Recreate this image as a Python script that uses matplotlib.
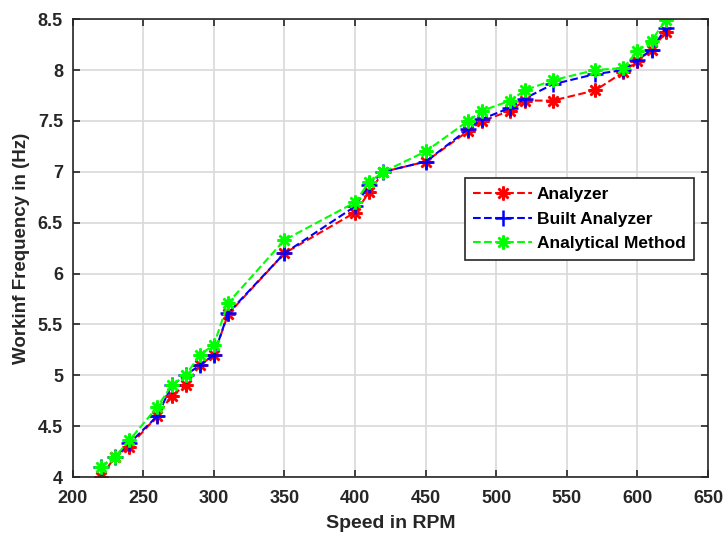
# -*- coding: utf-8 -*-

import matplotlib
matplotlib.use("Agg")
import matplotlib.pyplot as plt

# data ----------------------------------------------------------------------

speed = [220, 230, 240, 260, 270, 280, 290, 300, 310, 350, 400, 410,
         420, 450, 480, 490, 510, 520, 540, 570, 590, 600, 610, 620]

analyzer = [4.0, 4.2, 4.3, 4.6, 4.8, 4.9, 5.1, 5.2, 5.6, 6.2, 6.6, 6.8,
            7.0, 7.1, 7.4, 7.5, 7.6, 7.7, 7.7, 7.8, 7.98, 8.09, 8.2, 8.37]

built = [4.1, 4.2, 4.33, 4.6, 4.9, 5.0, 5.1, 5.2, 5.61, 6.2, 6.66, 6.87,
         7.0, 7.1, 7.42, 7.52, 7.63, 7.72, 7.86, 7.96, 8.0, 8.1, 8.2, 8.41]

analytical = [4.1, 4.2, 4.36, 4.69, 4.9, 5.0, 5.2, 5.3, 5.71, 6.33, 6.7, 6.9,
              7.0, 7.2, 7.5, 7.6, 7.7, 7.8, 7.9, 8.0, 8.02, 8.19, 8.29, 8.49]

xticks = list(range(200, 651, 50))
yticks = [4, 4.5, 5, 5.5, 6, 6.5, 7, 7.5, 8, 8.5]

rc = {
    "font.family": ["Liberation Sans", "DejaVu Sans"],
    "font.weight": "bold",
    "axes.labelweight": "bold",
    "xtick.direction": "in",
    "ytick.direction": "in",
    "xtick.top": True,
    "ytick.right": True,
}

with plt.rc_context(rc):
    fig = plt.figure(figsize=(7.27, 5.33), dpi=100)
    ax = fig.add_axes([0.100, 0.105, 0.874, 0.859])

    star = (8, 2, 0)
    ax.plot(speed, analyzer, "--", color="#ff0000", lw=1.5, marker=star,
            ms=10, mew=1.8, label="Analyzer")
    ax.plot(speed, built, "--", color="#0000ff", lw=1.5, marker="+",
            ms=11, mew=1.8, label="Built Analyzer")
    ax.plot(speed, analytical, "--", color="#00ff00", lw=1.5, marker=star,
            ms=10, mew=1.8, label="Analytical Method")

    ax.set_xlim(200, 650)
    ax.set_ylim(4, 8.5)
    ax.set_xticks(xticks)
    ax.set_yticks(yticks)
    ax.set_yticklabels([f"{v:g}" for v in yticks])
    ax.tick_params(labelsize=13, colors="#262626", length=5, width=1.2)
    ax.tick_params(axis="x", pad=9)
    ax.tick_params(axis="y", pad=7)
    ax.grid(True, color="#d9d9d9", lw=1.2)
    ax.set_axisbelow(True)
    for s in ax.spines.values():
        s.set_color("#262626")
        s.set_linewidth(1.2)

    ax.set_xlabel("Speed in RPM", fontsize=14, color="#262626", labelpad=6)
    ax.set_ylabel("Workinf Frequency in (Hz)", fontsize=13.5, color="#262626",
                  labelpad=6)

    leg = ax.legend(loc="upper left", bbox_to_anchor=(0.617, 0.653),
                    borderaxespad=0, fontsize=12.5, frameon=True,
                    fancybox=False, edgecolor="#262626", framealpha=1,
                    handlelength=3.4, handletextpad=0.25, borderpad=0.5,
                    labelspacing=0.55)
    leg.get_frame().set_linewidth(1.2)

    plt.savefig("out.png", dpi=100)
